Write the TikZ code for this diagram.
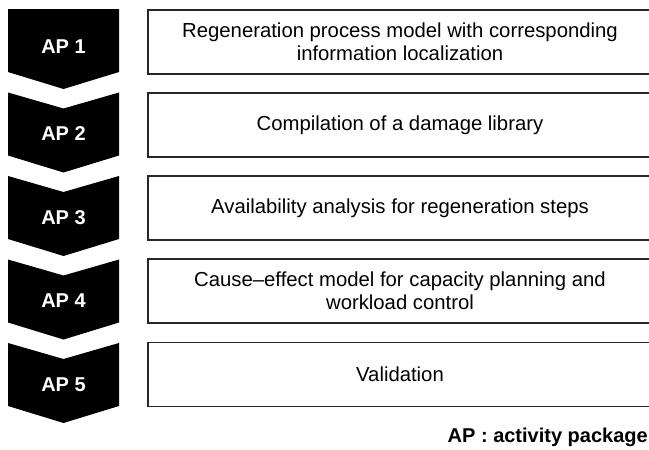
\documentclass[tikz,border=0pt]{standalone}
\usepackage{fontspec}
\setmainfont{Liberation Sans}
\begin{document}
\begin{tikzpicture}[x=1pt,y=-1pt,
  chev/.style={fill=black,draw=none},
  aplabel/.style={text=white,font=\fontsize{20}{23}\selectfont\bfseries,inner sep=0pt},
  taskbox/.style={draw=black!85,line width=1.2pt,minimum width=504pt,minimum height=64pt,
    inner sep=0pt,align=center,font=\fontsize{20.3}{23}\selectfont},
  legend/.style={font=\fontsize{20}{23}\selectfont\bfseries,inner sep=0pt,anchor=east}]
\useasboundingbox (0,0) rectangle (649,450);
% chevron 1 (flat top)
\fill[chev] (8,9) -- (119,9) -- (119,72) -- (63.5,89) -- (8,72) -- cycle;
\foreach \i in {1,2,3,4}{
  \pgfmathsetmacro{\T}{9+83.5*\i}
  \fill[chev] (8,\T) -- (63.5,\T+16) -- (119,\T) -- (119,\T+63) -- (63.5,\T+80) -- (8,\T+63) -- cycle;
}
\node[aplabel] (ap1) at (63.5,47) {AP 1};
\node[aplabel] (ap2) at (63.5,134) {AP 2};
\node[aplabel] (ap3) at (63.5,217.5) {AP 3};
\node[aplabel] (ap4) at (63.5,301) {AP 4};
\node[aplabel] (ap5) at (63.5,385) {AP 5};
\node[taskbox] (b1) at (400,42) {Regeneration process model with corresponding\\information localization};
\node[taskbox] (b2) at (400,125) {Compilation of a damage library};
\node[taskbox] (b3) at (400,208) {Availability analysis for regeneration steps};
\node[taskbox] (b4) at (400,291) {Cause–effect model for capacity planning and\\workload control};
\node[taskbox] (b5) at (400,374.5) {Validation};
\node[legend] (leg) at (648,437) {AP : activity package};
\end{tikzpicture}
\end{document}
